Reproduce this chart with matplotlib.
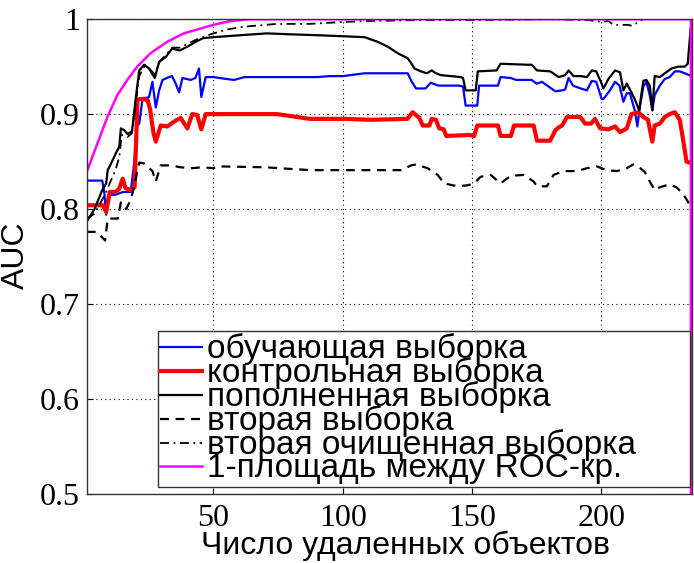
import matplotlib
matplotlib.use("Agg")
import matplotlib.pyplot as plt
from matplotlib.ticker import FixedLocator

# ---------------- data ----------------
blue_x = [1, 7, 7.8, 8.5, 9.3, 12, 15, 18, 19.4, 20.5, 21.3, 22.6, 24, 25.1, 26.4, 27.7, 29, 30.3, 32.8, 34,
          35.4, 36.7, 38, 41.2, 43, 44.4, 45.3, 47, 50, 55, 58, 62, 70, 80, 90, 95, 100, 108.5, 115, 125.1,
          126.5, 128.3, 132, 134, 137, 145, 146.5, 147.5, 152, 152.7, 160, 161, 165, 167, 173, 175, 177, 179.6,
          182.2, 184.8, 186, 187.3, 189, 192, 194.4, 196.3, 198, 200.1, 200.8, 203.3, 205.3, 207, 208.5, 209.8,
          211, 212.9, 213.9, 214.9, 216.2, 217.4, 218.7, 219.7, 220.6, 222.6, 224.5, 226.4, 228.4, 230.3, 232.2, 234]
blue_y = [0.830, 0.830, 0.817, 0.794, 0.815, 0.815, 0.818, 0.818, 0.850, 0.888, 0.890, 0.917, 0.917, 0.918,
          0.934, 0.907, 0.925, 0.936, 0.939, 0.940, 0.932, 0.923, 0.938, 0.936, 0.938, 0.948, 0.918, 0.939,
          0.939, 0.937, 0.936, 0.939, 0.939, 0.939, 0.939, 0.940, 0.940, 0.943, 0.943, 0.943, 0.935, 0.927,
          0.927, 0.933, 0.930, 0.930, 0.929, 0.909, 0.909, 0.930, 0.930, 0.939, 0.938, 0.936, 0.936, 0.932,
          0.934, 0.929, 0.924, 0.925, 0.926, 0.938, 0.930, 0.927, 0.925, 0.935, 0.934, 0.916, 0.916, 0.925,
          0.934, 0.930, 0.913, 0.922, 0.922, 0.904, 0.887, 0.908, 0.929, 0.934, 0.920, 0.904, 0.920, 0.930,
          0.937, 0.939, 0.945, 0.945, 0.943, 0.941]

red_x = [1, 7.3, 8.5, 9.9, 12, 13.5, 14.9, 16, 18.1, 19.5, 20.6, 21.9, 24.5, 25.5, 26.8, 27.7, 29.6, 32.2,
         34.7, 37.3, 39.9, 41.8, 43.7, 45.3, 47, 50, 74.5, 87.3, 100.8, 111, 125, 127, 129.6, 130.9, 133.5,
         134.4, 136, 137.3, 139, 140, 149, 150.8, 152, 160, 161, 165, 166.2, 173.8, 175.1, 180.2, 182.2,
         183.5, 184.8, 186.7, 191.8, 193.7, 196, 197.5, 198.5, 199.5, 202.7, 205.3, 207.2, 209.8, 211.6,
         214.2, 216.2, 218, 219.7, 220.6, 222.6, 224.5, 226.4, 228.4, 230.3, 231.6, 232.9, 234]
red_y = [0.804, 0.804, 0.797, 0.818, 0.818, 0.821, 0.832, 0.822, 0.820, 0.823, 0.915, 0.916, 0.915, 0.905,
         0.880, 0.871, 0.888, 0.887, 0.892, 0.896, 0.885, 0.900, 0.899, 0.884, 0.900, 0.900, 0.900, 0.895,
         0.895, 0.894, 0.895, 0.902, 0.896, 0.888, 0.888, 0.895, 0.894, 0.885, 0.884, 0.877, 0.878, 0.877,
         0.888, 0.888, 0.877, 0.877, 0.888, 0.888, 0.872, 0.872, 0.883, 0.886, 0.888, 0.897, 0.897, 0.890,
         0.890, 0.895, 0.890, 0.885, 0.884, 0.887, 0.881, 0.885, 0.900, 0.902, 0.897, 0.894, 0.871, 0.888,
         0.890, 0.897, 0.900, 0.902, 0.894, 0.873, 0.850, 0.849]

black_x = [1, 4, 7, 8.5, 9.1, 10.4, 12.3, 13.6, 14.2, 15.5, 16.8, 18.5, 20, 21.3, 23.2, 25.1, 27.3, 29, 31.5,
           34, 37, 39.9, 43, 46, 50, 60, 70.6, 80, 91, 100, 108.5, 113.6, 117.4, 121.3, 125, 126.4, 127.7,
           130.2, 132.5, 134.4, 136, 138, 145.6, 146.5, 147.5, 151.4, 152.2, 159.5, 161, 171.3, 173, 175.1,
           180.2, 183.5, 186, 187.3, 189.2, 192, 194.4, 196.3, 198, 200.1, 200.8, 202.7, 205.3, 207.2, 208.5,
           209.8, 211.6, 213, 214.6, 216.2, 217.4, 218.7, 219.7, 220.6, 222.6, 224.5, 227.1, 229.7, 232.2,
           233.4, 234.5]
black_y = [0.787, 0.800, 0.820, 0.827, 0.841, 0.848, 0.859, 0.866, 0.885, 0.883, 0.879, 0.882, 0.918, 0.946,
           0.952, 0.948, 0.938, 0.955, 0.960, 0.969, 0.967, 0.971, 0.976, 0.980, 0.981, 0.983, 0.985, 0.984,
           0.983, 0.982, 0.981, 0.976, 0.971, 0.964, 0.959, 0.954, 0.948, 0.945, 0.943, 0.946, 0.943, 0.941,
           0.939, 0.938, 0.925, 0.925, 0.945, 0.946, 0.953, 0.952, 0.952, 0.946, 0.945, 0.939, 0.941, 0.946,
           0.940, 0.940, 0.939, 0.946, 0.945, 0.932, 0.927, 0.937, 0.946, 0.944, 0.925, 0.932, 0.923, 0.915,
           0.904, 0.935, 0.936, 0.930, 0.904, 0.940, 0.939, 0.943, 0.948, 0.950, 0.950, 0.953, 0.990]

second_x = [1, 5, 8.1, 9.1, 10.3, 13, 14.2, 16.2, 18.1, 19.4, 21.3, 23.2, 26.4, 27.7, 29.6, 33.5, 37.3, 41.2,
            46, 50, 51.4, 70, 87.3, 100.8, 122.6, 126.4, 128.3, 132.8, 136.7, 139.2, 144.4, 148.2, 150.8,
            153.3, 157.2, 161, 164.9, 170, 173.8, 175.1, 178.9, 181.5, 185.4, 190.5, 194.4, 198.2, 202,
            205.9, 209.8, 212.3, 214.2, 216.8, 218.7, 220.6, 222.6, 226.4, 229, 231.6, 233.4, 234]
second_y = [0.776, 0.776, 0.767, 0.790, 0.790, 0.790, 0.807, 0.800, 0.810, 0.825, 0.849, 0.848, 0.840, 0.829,
            0.846, 0.846, 0.844, 0.843, 0.844, 0.843, 0.845, 0.844, 0.841, 0.841, 0.841, 0.846, 0.847, 0.843,
            0.836, 0.827, 0.824, 0.825, 0.827, 0.834, 0.836, 0.827, 0.835, 0.836, 0.829, 0.824, 0.824, 0.836,
            0.840, 0.840, 0.843, 0.845, 0.841, 0.840, 0.843, 0.847, 0.845, 0.839, 0.829, 0.820, 0.823, 0.826,
            0.823, 0.816, 0.808, 0.805]

clean_x = [1, 4, 7, 8.5, 10, 12, 13.6, 14.5, 16.8, 18.5, 20, 21.3, 23.2, 25.1, 27.3, 29, 31.5, 34, 37, 40,
           43, 46, 48.8, 55, 61.6, 74.5, 87, 100, 110, 130, 150, 180, 195, 200, 202.7, 204.6, 210, 212, 216, 234]
clean_y = [0.790, 0.795, 0.810, 0.818, 0.828, 0.840, 0.855, 0.878, 0.876, 0.880, 0.912, 0.940, 0.950, 0.948,
           0.942, 0.955, 0.962, 0.970, 0.970, 0.974, 0.978, 0.981, 0.984, 0.989, 0.992, 0.995, 0.995, 0.997,
           0.998, 0.999, 0.999, 1.000, 0.999, 0.997, 0.998, 0.994, 0.994, 0.993, 1.000, 1.000]

roc_x = [1, 5.1, 9, 12.8, 16.7, 20.5, 25.6, 32, 38.5, 44.9, 50, 56.5, 64, 80, 234.6, 234.6]
roc_y = [0.839, 0.869, 0.897, 0.920, 0.936, 0.950, 0.964, 0.976, 0.985, 0.990, 0.994, 0.998, 1.0, 1.0, 1.0, 0.45]

labels = ["обучающая выборка", "контрольная выборка", "пополненная выборка",
          "вторая выборка", "вторая очищенная выборка", "1-площадь между ROC-кр."]
x_ticks = [50, 100, 150, 200]
y_ticks = [0.5, 0.6, 0.7, 0.8, 0.9, 1.0]
y_tick_labels = ["0.5", "0.6", "0.7", "0.8", "0.9", "1"]
x_label = "Число удаленных объектов"
y_label = "AUC"

SANS = ["Liberation Sans", "DejaVu Sans"]
SERIF = ["Liberation Serif", "DejaVu Serif"]

# ---------------- figure ----------------
fig = plt.figure(figsize=(6.94, 5.63), dpi=100)
ax = fig.add_axes([0.125, 0.1226, 0.872, 0.8434])

ax.plot(blue_x, blue_y, color="#0000ff", lw=1.6, label=labels[0])
ax.plot(red_x, red_y, color="#ff0000", lw=3.0, label=labels[1])
ax.plot(black_x, black_y, color="black", lw=1.6, label=labels[2])
ax.plot(second_x, second_y, color="black", lw=1.6, dashes=(4, 3), label=labels[3])
ax.plot(clean_x, clean_y, color="black", lw=1.3, dashes=(5, 2.5, 1, 2.5), label=labels[4])
ax.plot(roc_x, roc_y, color="#ff00ff", lw=1.8, label=labels[5])

ax.set_xlim(1, 235)
ax.set_ylim(0.5, 1.0)
ax.xaxis.set_major_locator(FixedLocator(x_ticks))
ax.set_yticks(y_ticks)
ax.set_yticklabels(y_tick_labels)
ax.grid(True, color="black", linestyle=(0, (1, 3)), lw=0.8)
ax.tick_params(direction="in", length=4, width=0.8)
ax.tick_params(axis="x", pad=7)
ax.tick_params(axis="y", pad=5)
for lab in ax.get_xticklabels() + ax.get_yticklabels():
    lab.set_fontfamily(SERIF)
    lab.set_fontsize(23)
for sp in ax.spines.values():
    sp.set_color("#333333")
    sp.set_linewidth(1.0)

ax.set_xlabel(x_label, fontfamily=SANS, fontsize=23)
ax.xaxis.set_label_coords(0.526, -0.078)
ax.set_ylabel(y_label, fontfamily=SANS, fontsize=23)
ax.yaxis.set_label_coords(-0.092, 0.503)

leg = ax.legend(loc="lower left", bbox_to_anchor=(0.117, 0.015, 0.88, 0.341), mode="expand",
                prop={"family": SANS, "size": 24}, labelspacing=-0.24,
                handlelength=1.25, handletextpad=0.15, borderpad=0.08, borderaxespad=0,
                frameon=True, fancybox=False, framealpha=1)
leg.get_frame().set_edgecolor("#333333")
leg.get_frame().set_linewidth(1.0)

fig.savefig("out.png", dpi=100)
